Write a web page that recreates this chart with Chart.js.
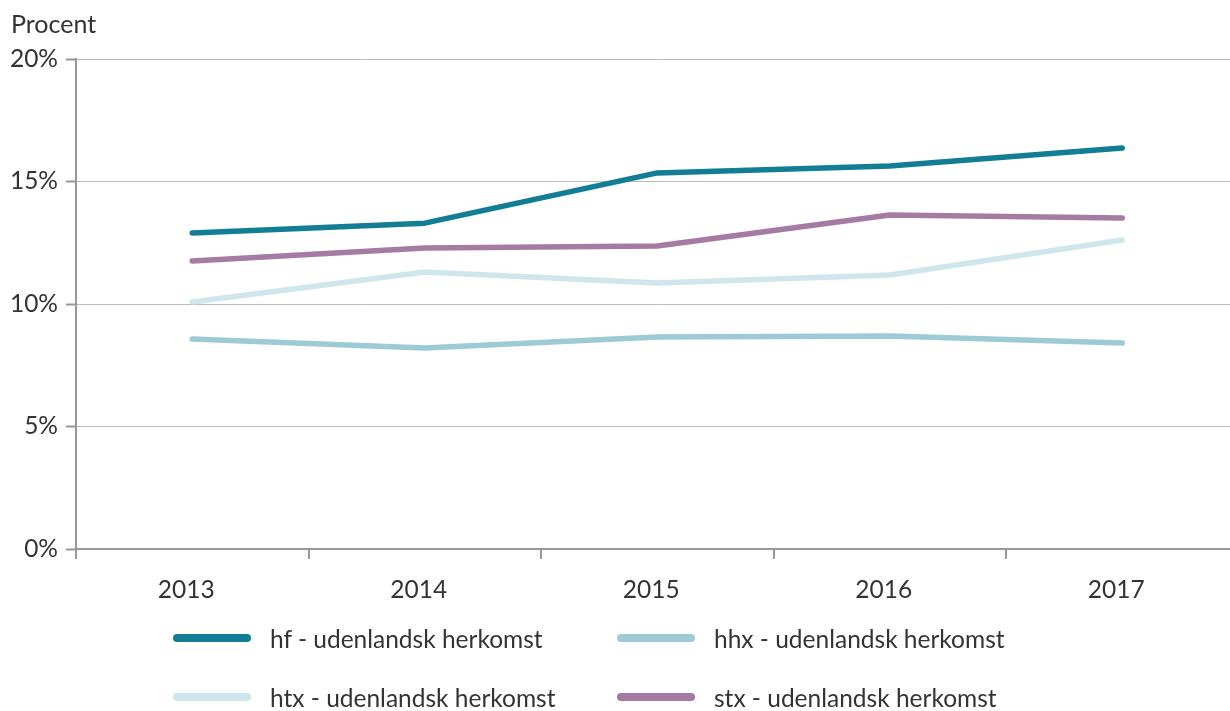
<!DOCTYPE html>
<html>
<head>
<meta charset="utf-8">
<script src="https://cdn.jsdelivr.net/npm/chart.js@4/dist/chart.umd.min.js"></script>
<style>
html,body{margin:0;padding:0;background:#fff;overflow:hidden;width:1230px;height:711px;}
#wrap{position:absolute;left:0;top:0;width:1240px;height:711px;}
#title{position:absolute;left:11px;top:8px;font:25px Lato, sans-serif;color:#333;}
.leg{position:absolute;font:24.5px Lato, sans-serif;color:#333;white-space:nowrap;}
.leg span.sw{position:absolute;left:0;top:50%;width:78px;height:8px;margin-top:-4px;border-radius:4px;}
.leg span.tx{position:absolute;left:97px;top:50%;transform:translateY(-50%);}
</style>
</head>
<body>
<div id="wrap"><canvas id="c" width="1240" height="711"></canvas></div>
<div id="title">Procent</div>
<div id="legend"></div>
<script>
const categories = ['2013','2014','2015','2016','2017'];
const seriesNames = ['hf - udenlandsk herkomst','hhx - udenlandsk herkomst','htx - udenlandsk herkomst','stx - udenlandsk herkomst'];
const hf  = [12.9, 13.3, 15.35, 15.63, 16.37];
const hhx = [8.57, 8.2, 8.65, 8.69, 8.41];
const htx = [10.08, 11.31, 10.86, 11.18, 12.61];
const stx = [11.76, 12.29, 12.37, 13.63, 13.51];
const colors = ['#137d96','#9ccbd6','#cfe6ec','#a57ba3'];
const yTicks = [0,5,10,15,20];

const values = [hf, hhx, htx, stx];
const datasets = values.map((v,i)=>({
  label: seriesNames[i], data: v, borderColor: colors[i], backgroundColor: colors[i],
  borderWidth: 5.5, pointRadius: 0, borderCapStyle:'round', borderJoinStyle:'round', tension:0, fill:false
}));
// draw order: hhx, htx, stx, hf on top
const order = [1,2,3,0];
const dsOrdered = order.map(i=>datasets[i]);

const font = {family:'Lato, sans-serif', size:24.5};
new Chart(document.getElementById('c'), {
  type:'line',
  data:{labels:categories, datasets:dsOrdered},
  options:{
    responsive:false, animation:false,
    layout:{padding:{top:59, right:1.5, bottom:112, left:0}},
    plugins:{legend:{display:false}, title:{display:false}, tooltip:{enabled:false}},
    scales:{
      x:{
        offset:true,
        grid:{offset:true, drawOnChartArea:false, drawTicks:true, tickLength:10, color:'#999', lineWidth:2},
        border:{display:true, color:'#999', width:2},
        ticks:{font:font, color:'#333', padding:16, labelOffset:-6},
        afterFit:(s)=>{s.height=50;}
      },
      y:{
        min:0, max:20,
        afterBuildTicks:(s)=>{s.ticks = yTicks.map(v=>({value:v}));},
        grid:{color:'#bbb', lineWidth:1, drawTicks:true, tickLength:10, tickColor:'#999', tickWidth:2},
        border:{display:true, color:'#999', width:2},
        ticks:{font:font, color:'#333', padding:8, callback:(v)=>v+'%'},
        afterFit:(s)=>{s.width=76;}
      }
    }
  }
});

// legend
const legPos = [[173,638],[617,638],[173,697],[617,697]];
const legEl = document.getElementById('legend');
seriesNames.forEach((n,i)=>{
  const d = document.createElement('div');
  d.className='leg';
  d.style.left=legPos[i][0]+'px'; d.style.top=(legPos[i][1]-15)+'px';
  d.style.height='30px'; d.style.width='420px';
  d.innerHTML='<span class="sw" style="background:'+colors[i]+'"></span><span class="tx">'+n+'</span>';
  legEl.appendChild(d);
});
</script>
</body>
</html>
